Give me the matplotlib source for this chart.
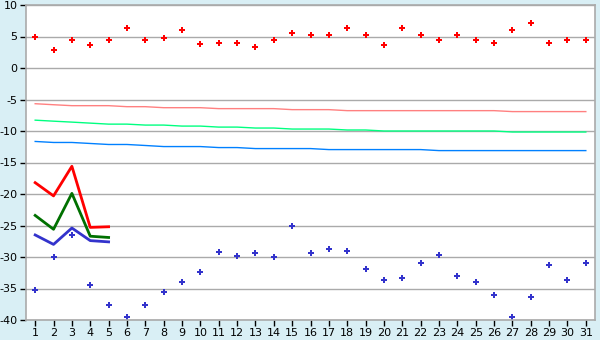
import matplotlib.pyplot as plt
plt.rcParams['axes.unicode_minus'] = False  # plain hyphen, like the reference

days = list(range(1, 32))

# scattered points
red_pts = [5.0, 2.8, 4.4, 3.6, 4.4, 6.3, 4.4, 4.7, 6.0, 3.8,
           4.0, 4.0, 3.4, 4.4, 5.5, 5.3, 5.3, 6.3, 5.2, 3.6,
           6.4, 5.2, 4.4, 5.2, 4.5, 4.0, 6.0, 7.1, 3.9, 4.5, 4.5]
blue_pts = [-35.2, -30.0, -26.5, -34.4, -37.6, -39.5, -37.6, -35.5, -34.0, -32.4,
            -29.2, -29.9, -29.4, -30.0, -25.1, -29.4, -28.8, -29.0, -31.9, -33.7,
            -33.4, -31.0, -29.7, -33.0, -33.9, -36.0, -39.5, -36.3, -31.2, -33.7, -31.0]

# slow trend lines
pink_line = [-5.67, -5.83, -5.98, -5.98, -5.98, -6.14, -6.14, -6.30, -6.30, -6.30,
             -6.45, -6.45, -6.45, -6.45, -6.61, -6.61, -6.61, -6.77, -6.77, -6.77,
             -6.77, -6.77, -6.77, -6.77, -6.77, -6.77, -6.92, -6.92, -6.92, -6.92, -6.92]
green_line = [-8.28, -8.44, -8.59, -8.75, -8.91, -8.91, -9.06, -9.06, -9.22, -9.22,
              -9.38, -9.38, -9.53, -9.53, -9.69, -9.69, -9.69, -9.84, -9.84, -10.0,
              -10.0, -10.0, -10.0, -10.0, -10.0, -10.0, -10.16, -10.16, -10.16, -10.16, -10.16]
blue_line = [-11.66, -11.82, -11.82, -11.98, -12.14, -12.14, -12.30, -12.47, -12.47, -12.47,
             -12.63, -12.63, -12.79, -12.79, -12.79, -12.79, -12.95, -12.95, -12.95, -12.95,
             -12.95, -12.95, -13.11, -13.11, -13.11, -13.11, -13.11, -13.11, -13.11, -13.11, -13.11]

# first five days only
short_days = [1, 2, 3, 4, 5]
red_short = [-18.2, -20.3, -15.6, -25.3, -25.2]
green_short = [-23.4, -25.6, -19.9, -26.7, -26.9]
blue_short = [-26.5, -28.0, -25.4, -27.4, -27.6]

fig = plt.figure(figsize=(6, 3.4), dpi=100, facecolor='#d9eff5')
ax = fig.add_axes([26 / 600, 1 - 320 / 340, 569 / 600, 315 / 340])
ax.set_facecolor('white')

ax.plot(days, pink_line, color='#ff8080', lw=1)
ax.plot(days, green_line, color='#00ff80', lw=1)
ax.plot(days, blue_line, color='#0080ff', lw=1)

ax.plot(short_days, red_short, color='#ff0000', lw=2)
ax.plot(short_days, green_short, color='#007000', lw=2)
ax.plot(short_days, blue_short, color='#3333cc', lw=2)

ax.plot(days, red_pts, ls='none', marker='P', ms=5, color='#ff0000', mew=0)
ax.plot(days, blue_pts, ls='none', marker='P', ms=5, color='#3333cc', mew=0)

ax.set_xlim(0.5, 31.5)
ax.set_ylim(-40, 10)
ax.set_xticks(days)
ax.set_yticks(range(-40, 11, 5))
ax.yaxis.grid(True, color='#aaaaaa', lw=1)
ax.set_axisbelow(True)
for s in ax.spines.values():
    s.set_color('#aaaaaa')
    s.set_linewidth(1.2)
ax.tick_params(axis='both', length=4, width=1, color='black', labelsize=8, pad=2)

plt.savefig('out.png', dpi=100, facecolor=fig.get_facecolor())
